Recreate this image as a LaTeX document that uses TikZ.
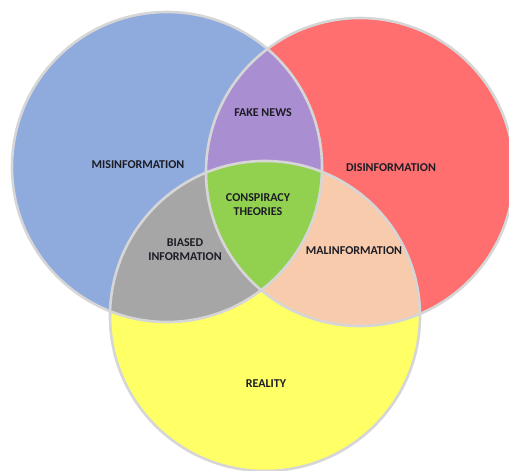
\documentclass[tikz,border=0pt]{standalone}
\usepackage{fontspec}
\setmainfont{Carlito}
\definecolor{misblue}{HTML}{8FAADC}
\definecolor{disred}{HTML}{FF6F6F}
\definecolor{realyellow}{HTML}{FFFF66}
\definecolor{fakepurple}{HTML}{AA8ED2}
\definecolor{conspgreen}{HTML}{92D050}
\definecolor{biasgray}{HTML}{A6A6A6}
\definecolor{malpeach}{HTML}{F8CBAD}
\definecolor{rimgray}{HTML}{D6D6D6}
\definecolor{labelink}{HTML}{1C1C24}
\tikzset{
  rim/.style={draw=rimgray, line width=2.6pt},
  lbl/.style={font=\fontsize{12}{14}\selectfont\bfseries, text=labelink, align=center, inner sep=0pt}
}
\begin{document}
\begin{tikzpicture}[x=1pt, y=-1pt]
  \useasboundingbox (0,0) rectangle (509,471);
  \clip (0,0) rectangle (509,471);
  % circle centres and radii
  \coordinate (cb) at (167,167);
  \coordinate (cr) at (360,172);
  \coordinate (cy) at (265,316);
  \def\blueC{(cb) circle[radius=155]}
  \def\redC{(cr) circle[radius=154]}
  \def\yelC{(cy) circle[radius=155]}
  % base discs
  \fill[misblue] \blueC;
  \fill[disred] \redC;
  \fill[realyellow] \yelC;
  % pairwise overlaps
  \begin{scope}
    \clip \blueC;
    \fill[fakepurple] \redC;
  \end{scope}
  \begin{scope}
    \clip \blueC;
    \fill[biasgray] \yelC;
  \end{scope}
  \begin{scope}
    \clip \redC;
    \fill[malpeach] \yelC;
  \end{scope}
  % triple overlap
  \begin{scope}
    \clip \blueC;
    \clip \redC;
    \fill[conspgreen] \yelC;
  \end{scope}
  % outlines
  \draw[rim] \blueC;
  \draw[rim] \redC;
  \draw[rim] \yelC;
  % labels
  \node[lbl] (mis) at (138,165) {MISINFORMATION};
  \node[lbl] (dis) at (391,168) {DISINFORMATION};
  \node[lbl] (fake) at (263,113) {FAKE NEWS};
  \node[lbl] (consp) at (258,205) {CONSPIRACY\\THEORIES};
  \node[lbl] (bias) at (185,250) {BIASED\\INFORMATION};
  \node[lbl] (mal) at (354,251) {MALINFORMATION};
  \node[lbl] (real) at (266,384) {REALITY};
\end{tikzpicture}
\end{document}
